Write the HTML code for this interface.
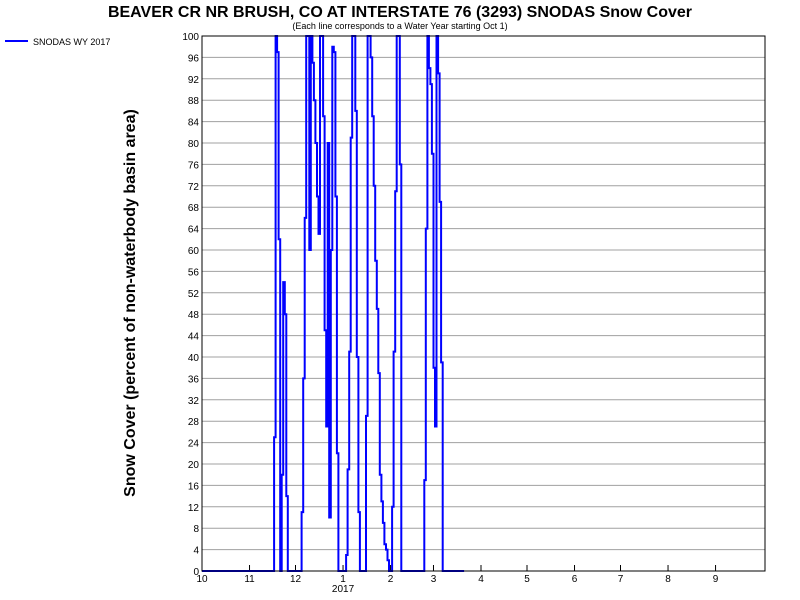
<!DOCTYPE html>
<html><head><meta charset="utf-8"><style>
body{margin:0;background:#fff;}
svg{display:block;font-family:"Liberation Sans",sans-serif;}
</style></head><body>
<svg id="chart" width="800" height="600">
<rect width="800" height="600" fill="#fff"/>
<text x="400" y="17" text-anchor="middle" font-size="16" font-weight="bold">BEAVER CR NR BRUSH, CO AT INTERSTATE 76 (3293) SNODAS Snow Cover</text>
<text x="400" y="29" text-anchor="middle" font-size="9">(Each line corresponds to a Water Year starting Oct 1)</text>
<text transform="translate(135,303) rotate(-90)" text-anchor="middle" font-size="16" font-weight="bold">Snow Cover (percent of non-waterbody basin area)</text>
<g>
<line x1="5" y1="41" x2="28" y2="41" stroke="#0000ff" stroke-width="2"/>
<text x="33" y="45" font-size="9">SNODAS WY 2017</text>
</g>
<g id="grid"></g>
<g id="axes"></g>
<g id="series"></g>
<rect x="202" y="36" width="563" height="535" fill="none" stroke="#000" stroke-width="1"/>
</svg>
<script>
const yTicks = [0,4,8,12,16,20,24,28,32,36,40,44,48,52,56,60,64,68,72,76,80,84,88,92,96,100];
const monthLabels = ["10","11","12","1","2","3","4","5","6","7","8","9"];
const monthStartDays = [0,31,61,92,123,151,182,212,243,273,304,335];
const seriesDays = [0,46,47,48,49,50,51,52,53,54,55,56,64,65,66,67,68,69,70,71,72,73,74,75,76,77,78,79,80,81,82,83,84,85,86,87,88,89,93,94,95,96,97,98,99,100,101,102,103,106,107,108,109,110,111,112,113,114,115,116,117,118,119,120,121,122,123,124,125,126,127,128,129,130,144,145,146,147,148,149,150,151,152,153,154,155,156,157,171];
const seriesValues = [0,0,25,100,97,62,0,18,54,48,14,0,0,11,36,66,100,100,60,100,95,88,80,70,63,100,100,85,45,27,80,10,60,98,97,70,22,0,0,3,19,41,81,100,100,86,40,11,0,0,29,100,100,96,85,72,58,49,37,18,13,9,5,4,2,0,0,12,41,71,100,100,76,0,0,17,64,100,94,91,78,38,27,100,93,69,39,0,0];

const NS="http://www.w3.org/2000/svg";
const X0=202, X1=765, Y0=571, Y1=36;
const xScale = d => X0 + d*1.533;
const yScale = v => Y0 - v/100*(Y0-Y1);
function mk(tag, attrs, parent){const e=document.createElementNS(NS,tag);for(const k in attrs)e.setAttribute(k,attrs[k]);parent.appendChild(e);return e;}
const grid=document.getElementById('grid'), axes=document.getElementById('axes'), series=document.getElementById('series');
yTicks.forEach(v=>{
  const y=yScale(v);
  if(v>0&&v<100){const l=mk('line',{x1:X0,x2:X1,y1:y,y2:y,stroke:'#a0a0a0','stroke-width':1},grid);
  
  }
  const t=mk('text',{x:199,y:y+4,'text-anchor':'end','font-size':10},axes);t.textContent=v;
  
  
});
monthLabels.forEach((m,i)=>{
  const x=xScale(monthStartDays[i]);
  const tk=mk('line',{x1:x,x2:x,y1:Y0,y2:Y0-6,stroke:'#000','stroke-width':1},axes);
  
  
  const t=mk('text',{x:x,y:582,'text-anchor':'middle','font-size':10},axes);t.textContent=m;
  
  
});
const yr=mk('text',{x:xScale(92),y:592,'text-anchor':'middle','font-size':10},axes);yr.textContent="2017";


// step-style rendering: vertical jump at each day, short hold
let pts=[];
seriesDays.forEach((d,i)=>{
  const x=xScale(d), y=yScale(seriesValues[i]);
  if(i>0){pts.push(x.toFixed(1)+','+yScale(seriesValues[i-1]).toFixed(1));}
  pts.push(x.toFixed(1)+','+y.toFixed(1));
});
const pl=mk('polyline',{points:pts.join(' '),fill:'none',stroke:'#0000ff','stroke-width':2,'stroke-linejoin':'miter'},series);


</script>
</body></html>
